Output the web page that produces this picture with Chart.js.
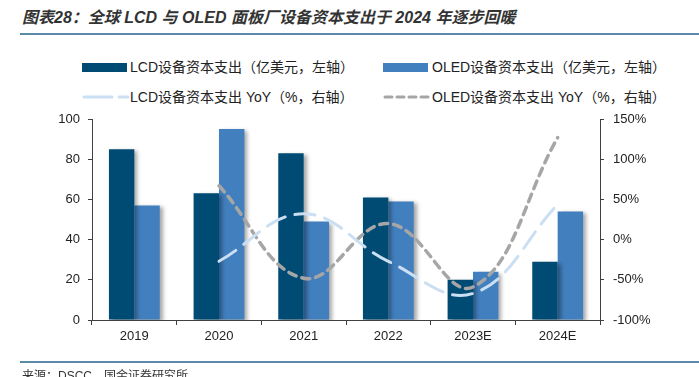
<!DOCTYPE html>
<html>
<head>
<meta charset="utf-8">
<script src="https://cdn.jsdelivr.net/npm/chart.js@4.4.1/dist/chart.umd.min.js"></script>
<style>
  html,body{margin:0;padding:0;background:#fff;}
  #wrap{position:relative;width:699px;height:377px;overflow:hidden;font-family:"Liberation Sans","Noto Sans CJK SC",sans-serif;}
  #c{position:absolute;left:0;top:0;}
  .title{position:absolute;left:22px;top:8px;font-size:16px;font-weight:bold;font-style:italic;color:#333;white-space:nowrap;line-height:20px;}
  .rule{position:absolute;left:20px;right:0;height:2px;background:#5b8aa8;}
  .lg{position:absolute;font-size:14px;color:#222;white-space:nowrap;line-height:16px;}
  .sw{position:absolute;}
  .src{position:absolute;left:22px;top:366px;font-size:12px;color:#333;white-space:nowrap;}
</style>
</head>
<body>
<div id="wrap">
  <div class="title">图表28：全球 LCD 与 OLED 面板厂设备资本支出于 2024 年逐步回暖</div>
  <div class="rule" style="top:33px"></div>

  <div class="sw" style="left:82px;top:63px;width:45px;height:9px;background:#004b74"></div>
  <div class="lg" style="left:130px;top:59px">LCD设备资本支出（亿美元，左轴）</div>
  <div class="sw" style="left:383px;top:63px;width:45px;height:9px;background:#417fbe"></div>
  <div class="lg" style="left:432px;top:59px">OLED设备资本支出（亿美元，左轴）</div>

  <svg class="sw" style="left:82px;top:92px" width="48" height="10"><line x1="2" y1="5" x2="46" y2="5" stroke="#cadff2" stroke-width="3" stroke-dasharray="28,7" stroke-linecap="round"/></svg>
  <div class="lg" style="left:130px;top:89px">LCD设备资本支出 YoY（%，右轴）</div>
  <svg class="sw" style="left:383px;top:92px" width="48" height="10"><line x1="2" y1="5" x2="46" y2="5" stroke="#a6a6a6" stroke-width="3" stroke-dasharray="7,5" stroke-linecap="round"/></svg>
  <div class="lg" style="left:432px;top:89px">OLED设备资本支出 YoY（%，右轴）</div>

  <canvas id="c" width="699" height="377"></canvas>
  <div class="rule" style="top:361px"></div>
  <div class="src">来源：DSCC，国金证券研究所</div>
</div>
<script>
const years = ['2019','2020','2021','2022','2023E','2024E'];
const lcdCapex = [85, 63, 83, 61, 20, 29];
const oledCapex = [57, 95, 49, 59, 24, 54];
const lcdYoY = [null, -27, 32, -27, -67, 44];
const oledYoY = [null, 67, -48, 20, -59, 127];

const axisColor = '#404040';
const tickFont = {family:'"Liberation Sans", Arial, sans-serif', size:13};

const barShadow = {
  id:'barShadow',
  beforeDatasetDraw(chart, args){
    if(args.meta.type !== 'bar') return;
    const ctx = chart.ctx;
    ctx.save();
    ctx.shadowColor = 'rgba(0,0,0,0.35)';
    ctx.shadowBlur = 4;
    ctx.shadowOffsetX = 3;
    ctx.shadowOffsetY = 2;
  },
  afterDatasetDraw(chart, args){
    if(args.meta.type !== 'bar') return;
    chart.ctx.restore();
  }
};

new Chart(document.getElementById('c').getContext('2d'), {
  data:{
    labels: years,
    datasets:[
      { type:'line', label:'LCD设备资本支出 YoY', data:lcdYoY, yAxisID:'y2', order:0,
        borderColor:'#cadff2', borderWidth:3, borderDash:[20,10], borderCapStyle:'round',
        tension:0.4, pointRadius:0, fill:false },
      { type:'line', label:'OLED设备资本支出 YoY', data:oledYoY, yAxisID:'y2', order:0,
        borderColor:'#a6a6a6', borderWidth:3.5, borderDash:[8,6], borderCapStyle:'round',
        tension:0.4, pointRadius:0, fill:false },
      { type:'bar', label:'LCD设备资本支出', data:lcdCapex, yAxisID:'y', order:1,
        backgroundColor:'#004b74', categoryPercentage:0.6, barPercentage:1.0 },
      { type:'bar', label:'OLED设备资本支出', data:oledCapex, yAxisID:'y', order:1,
        backgroundColor:'#417fbe', categoryPercentage:0.6, barPercentage:1.0 }
    ]
  },
  options:{
    responsive:false,
    animation:false,
    layout:{ padding:{ top:119, left:0, right:0, bottom:0 } },
    plugins:{ legend:{ display:false }, tooltip:{ enabled:false } },
    scales:{
      x:{
        grid:{ drawOnChartArea:false, drawTicks:true, tickLength:5, color:axisColor, offset:true },
        border:{ color:axisColor, width:1 },
        ticks:{ color:'#222', font:tickFont, padding:4 },
        afterFit(s){ s.height = 57; }
      },
      y:{
        position:'left', min:0, max:100,
        grid:{ drawOnChartArea:false, drawTicks:true, tickLength:4, color:axisColor },
        border:{ color:axisColor, width:1 },
        ticks:{ stepSize:20, color:'#222', font:tickFont, padding:8 },
        afterFit(s){ s.width = 92; }
      },
      y2:{
        position:'right', min:-100, max:150,
        grid:{ drawOnChartArea:false, drawTicks:true, tickLength:4, color:axisColor },
        border:{ color:axisColor, width:1 },
        ticks:{ stepSize:50, color:'#222', font:tickFont, padding:9, callback:v => v + '%' },
        afterFit(s){ s.width = 99; }
      }
    }
  },
  plugins:[barShadow]
});
</script>
</body>
</html>
